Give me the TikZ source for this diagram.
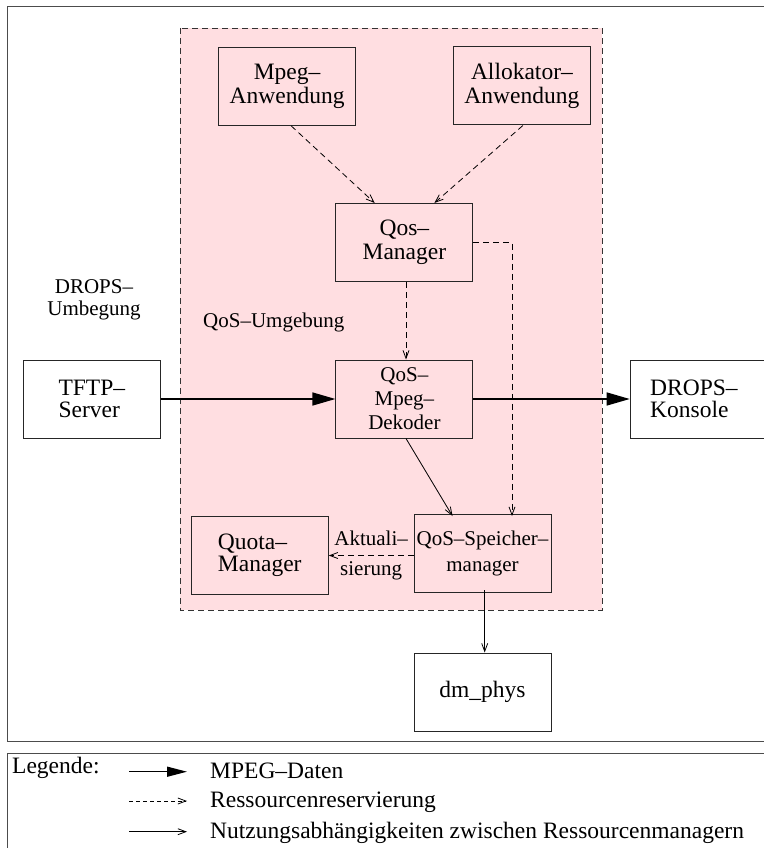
\documentclass[tikz,border=0pt]{standalone}
\usepackage{fontspec}
\setmainfont{Liberation Serif}
\usetikzlibrary{arrows.meta}
\definecolor{qospink}{RGB}{255,222,225}
\definecolor{frame}{gray}{0.3}
\begin{document}
\begin{tikzpicture}[x=1pt,y=-1pt,
  boxfont/.style={font=\fontsize{23.5}{24}\selectfont},
  tightfont/.style={font=\fontsize{23.5}{22}\selectfont},
  smallfont/.style={font=\fontsize{21}{24}\selectfont},
  modbox/.style={draw=black!85, line width=1pt, fill=white, inner sep=0pt,
    minimum width=137pt, minimum height=78pt, align=center},
  innerbox/.style={modbox, fill=qospink},
  thin tip/.style={-{Straight Barb[length=8pt,width=6pt,line width=0.8pt]}},
  resarrow/.style={thin tip, line width=0.8pt, dash pattern=on 6pt off 4pt},
  usearrow/.style={thin tip, line width=0.8pt},
  dataarrow/.style={-{Triangle[length=23pt,width=13pt]}, line width=1.4pt},
  legdata/.style={-{Triangle[length=20pt,width=10pt]}, line width=1.4pt},
  plain/.style={inner sep=0pt}
]
\useasboundingbox (0,0) rectangle (763,848);
\fill[white] (0,0) rectangle (763,848);

% outer DROPS frame and legend frame
\draw[frame, line width=1pt] (7,7) rectangle (775,741);
\draw[frame, line width=1pt] (7,753) rectangle (775,860);

% QoS environment
\draw[fill=qospink, draw=black!80, line width=0.9pt, dash pattern=on 6pt off 4pt]
  (180,28) rectangle (602,610);

% components
\node[innerbox, boxfont] (mpeg) at (287.1,86.3) {Mpeg–\\Anwendung};
\node[innerbox, boxfont] (alloc) at (521.9,86) {Allokator–\\Anwendung};
\node[innerbox, boxfont] (qosm) at (404.4,242.5) {Qos–\\Manager};
\node[innerbox, smallfont] (dekoder) at (404.4,399) {QoS–\\Mpeg–\\Dekoder};
\node[modbox, tightfont, align=left] (tftp) at (91.8,399) {TFTP–\\Server};
\node[modbox, tightfont, align=left, anchor=west, minimum width=150pt,
  text width=110pt, inner xsep=19pt] (konsole) at (629.7,399) {DROPS–\\Konsole};
\node[innerbox, tightfont, align=left] (quota) at (259.75,555.4) {Quota–\\Manager};
\node[innerbox, font=\fontsize{21}{26}\selectfont] (speicher) at (482.5,553)
  {QoS–Speicher–\\manager};
\path (speicher.center) ++(0,2.5) coordinate (spc);
\node[modbox, boxfont] (dmphys) at (482.5,692) {dm\_phys};

% area labels
\node[plain, align=center, font=\fontsize{21}{22}\selectfont] (drops) at (94,300) {DROPS–\\Umbegung};
\node[plain, smallfont, anchor=base west] (qosenv) at (203,327) {QoS–Umgebung};

% resource reservation
\draw[resarrow] ([xshift=4pt]mpeg.south) -- ([xshift=-29.7pt]qosm.north);
\draw[resarrow] ([xshift=1pt]alloc.south) -- ([xshift=30pt]qosm.north);
\draw[resarrow] ([xshift=1.6pt]qosm.south) -- ([xshift=1.6pt]dekoder.north);
\draw[resarrow] (qosm.east) -| ([xshift=29.5pt,yshift=-2.5pt]speicher.north);
\draw[resarrow] (speicher.west |- spc) -- (quota.east |- spc)
  node[plain, midway, font=\fontsize{21}{30}\selectfont, align=center] (akt) {Aktuali–\\sierung};

% MPEG data
\draw[dataarrow] (tftp.east) -- (dekoder.west);
\draw[dataarrow] (dekoder.east) -- (konsole.west);

% usage dependencies
\draw[usearrow] ([xshift=1.6pt]dekoder.south) -- ([xshift=-30pt,yshift=-2.5pt]speicher.north);
\draw[usearrow] ([xshift=2.2pt,yshift=2.5pt]speicher.south) -- ([xshift=2.2pt]dmphys.north);

% legend
\node[plain, boxfont, anchor=base west] (legtitle) at (12,773) {Legende:};
\coordinate (l1a) at (129,771.7); \coordinate (l1b) at (187,771.7);
\coordinate (l2a) at (129,801);   \coordinate (l2b) at (187,801);
\coordinate (l3a) at (129,831.7); \coordinate (l3b) at (187,831.7);
\draw[legdata] (l1a) -- (l1b);
\draw[resarrow, dash pattern=on 4pt off 3pt] (l2a) -- (l2b);
\draw[usearrow] (l3a) -- (l3b);
\node[plain, boxfont, anchor=base west] (leg1) at (210,778) {MPEG–Daten};
\node[plain, boxfont, anchor=base west] (leg2) at (210,807) {Ressourcenreservierung};
\node[plain, boxfont, anchor=base west] (leg3) at (210,838) {Nutzungsabhängigkeiten zwischen Ressourcenmanagern};
\end{tikzpicture}
\end{document}
